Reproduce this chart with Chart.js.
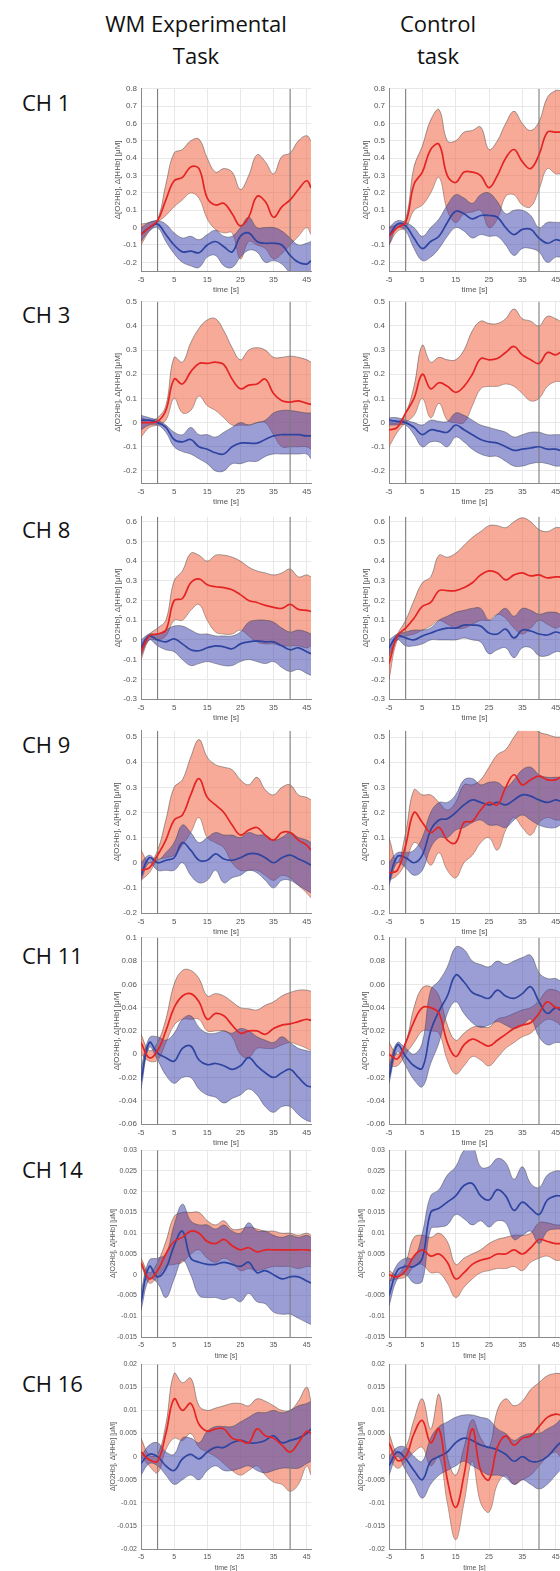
<!DOCTYPE html>
<html>
<head>
<meta charset="utf-8">
<script src="https://cdn.jsdelivr.net/npm/chart.js@4.4.1/dist/chart.umd.min.js"></script>
<style>
  html, body { margin: 0; padding: 0; width: 560px; height: 1571px; overflow: hidden; background: #fff; }
  .lbl { position: absolute; font-family: "Open Sans", sans-serif; font-size: 22px; color: #111; white-space: nowrap; }
  .head { text-align: center; width: 240px; line-height: 32px; }
  .ch { line-height: 22px; }
  canvas { position: absolute; }
</style>
</head>
<body>
<script>
// shared time axis (s), stimulus on/off markers, tick labels
const time = [-5, -2.5, 0, 2.5, 5, 7.5, 10, 12.5, 15, 17.5, 20, 22.5, 25, 27.5, 30, 32.5, 35, 37.5, 40, 42.5, 45, 46.3];
const xTicks = [-5, 5, 15, 25, 35, 45];
const markers = [0, 40];
const channels = ["CH 1", "CH 3", "CH 8", "CH 9", "CH 11", "CH 14", "CH 16"];
const tasks = [["WM Experimental", "Task"], ["Control", "task"]];

const yMin = [-0.25, -0.25, -0.3, -0.2, -0.06, -0.015, -0.02];
const yMax = [0.8, 0.5, 0.625, 0.525, 0.1, 0.03, 0.02];
const yTicks = [
  [-0.2, -0.1, 0, 0.1, 0.2, 0.3, 0.4, 0.5, 0.6, 0.7, 0.8],
  [-0.2, -0.1, 0, 0.1, 0.2, 0.3, 0.4, 0.5],
  [-0.3, -0.2, -0.1, 0, 0.1, 0.2, 0.3, 0.4, 0.5, 0.6],
  [-0.2, -0.1, 0, 0.1, 0.2, 0.3, 0.4, 0.5],
  [-0.06, -0.04, -0.02, 0, 0.02, 0.04, 0.06, 0.08, 0.1],
  [-0.015, -0.01, -0.005, 0, 0.005, 0.01, 0.015, 0.02, 0.025, 0.03],
  [-0.02, -0.015, -0.01, -0.005, 0, 0.005, 0.01, 0.015, 0.02]
];

// CH 1
const wm1O2    = [-0.04, 0.0, 0.04, 0.16, 0.27, 0.29, 0.35, 0.34, 0.17, 0.13, 0.14, 0.08, 0.01, 0.06, 0.18, 0.15, 0.06, 0.12, 0.16, 0.22, 0.27, 0.23];
const wm1O2Hi  = [0.02, 0.03, 0.05, 0.25, 0.43, 0.45, 0.5, 0.51, 0.4, 0.32, 0.34, 0.32, 0.22, 0.3, 0.42, 0.38, 0.31, 0.41, 0.43, 0.5, 0.53, 0.5];
const wm1O2Lo  = [-0.1, -0.02, 0.03, 0.07, 0.12, 0.16, 0.2, 0.17, 0.05, -0.01, -0.03, -0.03, -0.18, -0.08, -0.1, -0.12, -0.18, -0.15, -0.1, -0.05, 0.0, -0.04];
const wm1HHb   = [-0.04, 0.0, 0.02, -0.04, -0.1, -0.14, -0.135, -0.145, -0.1, -0.08, -0.11, -0.14, -0.05, -0.03, -0.08, -0.09, -0.09, -0.1, -0.16, -0.2, -0.21, -0.19];
const wm1HHbHi = [0.0, 0.03, 0.04, 0.02, -0.03, -0.06, -0.05, -0.07, -0.04, -0.015, -0.05, -0.05, 0.0, 0.06, 0.0, 0.0, 0.0, -0.02, -0.06, -0.1, -0.09, -0.08];
const wm1HHbLo = [-0.08, -0.02, 0.0, -0.08, -0.15, -0.2, -0.22, -0.23, -0.17, -0.16, -0.22, -0.23, -0.17, -0.13, -0.14, -0.2, -0.19, -0.21, -0.26, -0.28, -0.3, -0.3];
const ctl1O2    = [-0.05, 0.0, 0.03, 0.25, 0.32, 0.45, 0.48, 0.3, 0.26, 0.32, 0.32, 0.3, 0.23, 0.3, 0.4, 0.45, 0.38, 0.34, 0.42, 0.55, 0.55, 0.55];
const ctl1O2Hi  = [0.0, 0.02, 0.05, 0.35, 0.47, 0.62, 0.68, 0.5, 0.5, 0.55, 0.56, 0.58, 0.45, 0.5, 0.6, 0.67, 0.6, 0.56, 0.61, 0.75, 0.79, 0.79];
const ctl1O2Lo  = [-0.1, -0.02, 0.0, 0.1, 0.13, 0.2, 0.29, 0.1, 0.03, 0.08, 0.09, 0.1, 0.0, 0.05, 0.18, 0.19, 0.13, 0.12, 0.22, 0.34, 0.31, 0.31];
const ctl1HHb   = [-0.05, 0.02, 0.01, -0.06, -0.12, -0.08, -0.05, 0.03, 0.095, 0.08, 0.05, 0.07, 0.07, 0.06, 0.0, -0.04, -0.01, -0.01, -0.06, -0.09, -0.07, -0.075];
const ctl1HHbHi = [0.0, 0.04, 0.03, 0.0, -0.05, 0.0, 0.05, 0.13, 0.19, 0.17, 0.14, 0.19, 0.2, 0.15, 0.08, 0.1, 0.1, 0.07, 0.0, 0.03, 0.03, 0.03];
const ctl1HHbLo = [-0.1, 0.0, -0.02, -0.12, -0.19, -0.17, -0.12, -0.05, 0.0, -0.02, -0.06, -0.04, -0.05, -0.05, -0.1, -0.16, -0.12, -0.12, -0.14, -0.2, -0.17, -0.17];

// CH 3
const wm3O2    = [0.0, 0.0, 0.005, 0.05, 0.18, 0.16, 0.21, 0.245, 0.245, 0.25, 0.24, 0.18, 0.14, 0.155, 0.16, 0.18, 0.12, 0.09, 0.085, 0.09, 0.08, 0.075];
const wm3O2Hi  = [0.02, 0.01, 0.02, 0.07, 0.27, 0.25, 0.33, 0.39, 0.425, 0.43, 0.38, 0.31, 0.26, 0.3, 0.31, 0.3, 0.27, 0.27, 0.275, 0.27, 0.26, 0.25];
const wm3O2Lo  = [-0.06, -0.02, -0.01, 0.01, 0.1, 0.04, 0.05, 0.11, 0.07, 0.05, 0.02, -0.01, -0.01, -0.01, 0.0, 0.0, -0.05, -0.1, -0.1, -0.1, -0.1, -0.11];
const wm3HHb   = [0.01, 0.01, 0.0, -0.02, -0.07, -0.08, -0.07, -0.1, -0.11, -0.125, -0.13, -0.1, -0.085, -0.085, -0.085, -0.07, -0.055, -0.05, -0.05, -0.05, -0.055, -0.055];
const wm3HHbHi = [0.03, 0.02, 0.01, -0.01, -0.04, -0.05, -0.02, -0.05, -0.05, -0.06, -0.04, -0.02, 0.0, -0.01, 0.0, 0.01, 0.04, 0.05, 0.05, 0.045, 0.04, 0.04];
const wm3HHbLo = [-0.03, -0.01, -0.01, -0.04, -0.1, -0.12, -0.13, -0.15, -0.17, -0.2, -0.2, -0.17, -0.17, -0.16, -0.16, -0.14, -0.13, -0.13, -0.13, -0.13, -0.13, -0.15];
const ctl3O2    = [-0.03, -0.02, 0.04, 0.1, 0.2, 0.14, 0.165, 0.15, 0.125, 0.15, 0.2, 0.265, 0.26, 0.265, 0.29, 0.315, 0.28, 0.26, 0.245, 0.29, 0.28, 0.29];
const ctl3O2Hi  = [0.0, 0.0, 0.04, 0.15, 0.32, 0.25, 0.27, 0.26, 0.26, 0.3, 0.38, 0.42, 0.41, 0.41, 0.43, 0.47, 0.43, 0.42, 0.4, 0.44, 0.43, 0.42];
const ctl3O2Lo  = [-0.1, -0.04, 0.0, 0.03, 0.1, 0.02, 0.08, 0.01, 0.0, 0.0, 0.07, 0.14, 0.15, 0.15, 0.16, 0.15, 0.12, 0.09, 0.1, 0.15, 0.17, 0.17];
const ctl3HHb   = [0.01, 0.005, 0.0, -0.02, -0.05, -0.03, -0.035, -0.04, -0.01, -0.03, -0.05, -0.07, -0.08, -0.085, -0.1, -0.115, -0.11, -0.105, -0.1, -0.11, -0.11, -0.115];
const ctl3HHbHi = [0.02, 0.02, 0.01, 0.0, -0.01, 0.01, 0.005, 0.005, 0.04, 0.03, 0.01, -0.01, -0.02, -0.03, -0.04, -0.06, -0.05, -0.04, -0.04, -0.05, -0.05, -0.05];
const ctl3HHbLo = [-0.01, -0.01, -0.01, -0.05, -0.1, -0.08, -0.08, -0.1, -0.06, -0.08, -0.11, -0.13, -0.14, -0.14, -0.16, -0.18, -0.18, -0.17, -0.165, -0.17, -0.18, -0.18];

// CH 8
const wm8O2    = [-0.06, 0.02, 0.03, 0.05, 0.2, 0.21, 0.29, 0.31, 0.28, 0.27, 0.265, 0.255, 0.23, 0.2, 0.19, 0.175, 0.165, 0.16, 0.18, 0.155, 0.15, 0.145];
const wm8O2Hi  = [-0.02, 0.03, 0.06, 0.1, 0.3, 0.35, 0.44, 0.43, 0.4, 0.43, 0.43, 0.42, 0.4, 0.37, 0.35, 0.34, 0.33, 0.34, 0.36, 0.32, 0.33, 0.32];
const wm8O2Lo  = [-0.1, 0.0, 0.0, 0.02, 0.1, 0.1, 0.15, 0.18, 0.1, 0.04, 0.03, 0.03, 0.05, 0.02, -0.01, -0.02, -0.02, -0.03, -0.03, -0.03, -0.04, -0.03];
const wm8HHb   = [-0.04, 0.02, 0.0, -0.01, 0.005, -0.02, -0.05, -0.055, -0.04, -0.03, -0.035, -0.045, -0.02, -0.01, -0.005, -0.01, -0.01, -0.03, -0.05, -0.04, -0.06, -0.07];
const wm8HHbHi = [0.0, 0.03, 0.03, 0.05, 0.07, 0.07, 0.05, 0.03, 0.03, 0.02, 0.02, 0.02, 0.04, 0.09, 0.1, 0.1, 0.09, 0.06, 0.04, 0.05, 0.04, 0.03];
const wm8HHbLo = [-0.08, 0.0, -0.03, -0.05, -0.06, -0.1, -0.13, -0.12, -0.11, -0.12, -0.13, -0.13, -0.11, -0.1, -0.11, -0.12, -0.11, -0.14, -0.16, -0.15, -0.17, -0.18];
const ctl8O2    = [-0.12, 0.02, 0.06, 0.11, 0.17, 0.19, 0.25, 0.25, 0.25, 0.265, 0.29, 0.33, 0.35, 0.34, 0.305, 0.33, 0.34, 0.325, 0.33, 0.315, 0.32, 0.32];
const ctl8O2Hi  = [-0.05, 0.03, 0.1, 0.2, 0.29, 0.32, 0.43, 0.42, 0.44, 0.48, 0.52, 0.55, 0.58, 0.58, 0.57, 0.6, 0.62, 0.6, 0.56, 0.55, 0.57, 0.57];
const ctl8O2Lo  = [-0.2, 0.0, 0.02, 0.03, 0.05, 0.07, 0.1, 0.08, 0.06, 0.06, 0.08, 0.1, 0.1, 0.13, 0.11, 0.06, 0.03, 0.06, 0.1, 0.08, 0.06, 0.07];
const ctl8HHb   = [-0.04, 0.02, 0.01, 0.0, 0.02, 0.035, 0.05, 0.06, 0.06, 0.075, 0.075, 0.07, 0.035, 0.03, 0.055, 0.01, 0.05, 0.045, 0.03, 0.025, 0.04, 0.035];
const ctl8HHbHi = [0.0, 0.03, 0.04, 0.05, 0.05, 0.06, 0.1, 0.12, 0.14, 0.15, 0.16, 0.16, 0.1, 0.13, 0.16, 0.12, 0.16, 0.15, 0.13, 0.14, 0.14, 0.13];
const ctl8HHbLo = [-0.08, 0.0, -0.03, -0.03, -0.02, 0.0, 0.0, 0.0, 0.0, 0.01, 0.0, -0.01, -0.07, -0.05, -0.04, -0.09, -0.04, -0.04, -0.08, -0.08, -0.06, -0.06];

// CH 9
const wm9O2    = [-0.03, -0.02, 0.03, 0.09, 0.17, 0.19, 0.27, 0.335, 0.26, 0.23, 0.2, 0.15, 0.11, 0.13, 0.14, 0.11, 0.09, 0.12, 0.12, 0.09, 0.07, 0.05];
const wm9O2Hi  = [0.05, 0.0, 0.05, 0.17, 0.3, 0.33, 0.42, 0.49, 0.42, 0.39, 0.38, 0.37, 0.33, 0.31, 0.34, 0.29, 0.27, 0.3, 0.31, 0.27, 0.26, 0.25];
const wm9O2Lo  = [-0.07, -0.04, 0.01, 0.02, 0.03, 0.07, 0.12, 0.18, 0.1, 0.08, 0.06, 0.0, -0.03, -0.03, -0.03, -0.05, -0.07, -0.05, -0.06, -0.09, -0.12, -0.14];
const wm9HHb   = [-0.05, 0.02, 0.0, 0.01, 0.02, 0.08, 0.05, 0.01, 0.01, 0.035, 0.015, 0.01, 0.02, 0.035, 0.035, 0.02, 0.0, 0.02, 0.03, 0.015, 0.0, -0.01];
const wm9HHbHi = [0.0, 0.03, 0.01, 0.04, 0.08, 0.15, 0.12, 0.08, 0.1, 0.12, 0.11, 0.11, 0.1, 0.12, 0.11, 0.11, 0.09, 0.1, 0.12, 0.1, 0.09, 0.08];
const wm9HHbLo = [-0.07, 0.0, -0.03, -0.03, -0.03, 0.0, -0.05, -0.08, -0.07, -0.03, -0.08, -0.06, -0.05, -0.03, -0.04, -0.07, -0.1, -0.07, -0.07, -0.09, -0.11, -0.12];
const ctl9O2    = [-0.04, -0.03, 0.07, 0.2, 0.16, 0.12, 0.14, 0.09, 0.08, 0.16, 0.165, 0.21, 0.24, 0.23, 0.3, 0.35, 0.31, 0.33, 0.345, 0.33, 0.33, 0.34];
const ctl9O2Hi  = [0.1, 0.0, 0.12, 0.29, 0.27, 0.27, 0.24, 0.21, 0.24, 0.31, 0.31, 0.33, 0.38, 0.43, 0.45, 0.5, 0.54, 0.55, 0.52, 0.51, 0.5, 0.5];
const ctl9O2Lo  = [-0.07, -0.05, 0.0, 0.08, 0.05, -0.01, 0.04, -0.03, -0.06, 0.0, 0.03, 0.08, 0.1, 0.05, 0.13, 0.18, 0.14, 0.11, 0.16, 0.18, 0.17, 0.17];
const ctl9HHb   = [-0.07, 0.025, 0.02, 0.0, 0.03, 0.13, 0.17, 0.175, 0.2, 0.23, 0.25, 0.24, 0.23, 0.24, 0.23, 0.25, 0.27, 0.265, 0.25, 0.24, 0.25, 0.245];
const ctl9HHbHi = [0.0, 0.04, 0.04, 0.05, 0.1, 0.2, 0.24, 0.24, 0.27, 0.33, 0.335, 0.31, 0.32, 0.32, 0.3, 0.33, 0.37, 0.38, 0.35, 0.34, 0.34, 0.34];
const ctl9HHbLo = [-0.09, 0.0, -0.02, -0.05, -0.03, 0.06, 0.1, 0.1, 0.13, 0.14, 0.16, 0.17, 0.15, 0.15, 0.14, 0.17, 0.19, 0.17, 0.15, 0.14, 0.14, 0.15];

// CH 11
const wm11O2    = [0.01, -0.003, 0.003, 0.02, 0.04, 0.05, 0.052, 0.045, 0.03, 0.035, 0.033, 0.025, 0.018, 0.02, 0.02, 0.017, 0.022, 0.025, 0.026, 0.028, 0.03, 0.029];
const wm11O2Hi  = [0.017, 0.003, 0.01, 0.03, 0.06, 0.072, 0.072, 0.065, 0.05, 0.052, 0.05, 0.045, 0.04, 0.039, 0.038, 0.042, 0.045, 0.05, 0.053, 0.055, 0.055, 0.054];
const wm11O2Lo  = [0.0, -0.006, -0.005, 0.01, 0.025, 0.03, 0.03, 0.03, 0.02, 0.02, 0.02, 0.015, 0.0, -0.003, 0.005, 0.005, 0.005, 0.008, 0.01, 0.008, 0.005, 0.003];
const wm11HHb   = [-0.023, 0.01, 0.001, -0.003, -0.006, 0.005, 0.007, -0.005, -0.009, -0.008, -0.01, -0.013, -0.01, -0.003, -0.01, -0.016, -0.02, -0.016, -0.013, -0.02, -0.027, -0.028];
const wm11HHbHi = [-0.012, 0.014, 0.015, 0.012, 0.018, 0.03, 0.033, 0.023, 0.018, 0.018, 0.02, 0.018, 0.022, 0.02, 0.015, 0.012, 0.01, 0.015, 0.01, 0.005, 0.003, 0.002];
const wm11HHbLo = [-0.03, 0.006, -0.005, -0.018, -0.025, -0.02, -0.02, -0.03, -0.035, -0.037, -0.042, -0.038, -0.035, -0.03, -0.035, -0.045, -0.05, -0.045, -0.045, -0.052, -0.057, -0.058];
const ctl11O2    = [0.0, -0.004, 0.01, 0.028, 0.04, 0.04, 0.035, 0.01, -0.002, 0.008, 0.013, 0.01, 0.007, 0.012, 0.017, 0.022, 0.025, 0.027, 0.035, 0.045, 0.04, 0.04];
const ctl11O2Hi  = [0.01, 0.0, 0.01, 0.04, 0.057, 0.058, 0.05, 0.025, 0.012, 0.018, 0.023, 0.024, 0.023, 0.03, 0.032, 0.035, 0.038, 0.04, 0.046, 0.055, 0.055, 0.053];
const ctl11O2Lo  = [-0.01, -0.01, 0.0, 0.01, 0.02, 0.02, 0.018, -0.005, -0.017, -0.01, -0.002, -0.005, -0.01, -0.003, 0.005, 0.01, 0.015, 0.018, 0.025, 0.03, 0.028, 0.025];
const ctl11HHb   = [-0.02, 0.008, -0.002, -0.01, -0.012, 0.02, 0.037, 0.05, 0.068, 0.062, 0.053, 0.05, 0.048, 0.055, 0.05, 0.048, 0.052, 0.058, 0.045, 0.035, 0.04, 0.038];
const ctl11HHbHi = [-0.01, 0.01, 0.005, 0.0, 0.01, 0.055, 0.063, 0.075, 0.092, 0.09, 0.08, 0.077, 0.075, 0.08, 0.077, 0.08, 0.083, 0.085, 0.07, 0.065, 0.065, 0.063];
const ctl11HHbLo = [-0.025, 0.002, -0.01, -0.022, -0.028, -0.008, 0.01, 0.035, 0.045, 0.035, 0.027, 0.023, 0.025, 0.028, 0.025, 0.022, 0.025, 0.03, 0.015, 0.008, 0.01, 0.01];

// CH 14
const wm14O2    = [0.003, -0.001, 0.001, 0.005, 0.008, 0.009, 0.0105, 0.01, 0.008, 0.0075, 0.0085, 0.007, 0.006, 0.0065, 0.0055, 0.006, 0.006, 0.006, 0.006, 0.006, 0.006, 0.0058];
const wm14O2Hi  = [0.004, 0.0005, 0.003, 0.008, 0.014, 0.015, 0.015, 0.015, 0.013, 0.012, 0.013, 0.011, 0.011, 0.0115, 0.011, 0.0105, 0.0105, 0.01, 0.01, 0.0095, 0.01, 0.0095];
const wm14O2Lo  = [0.0025, -0.002, -0.0005, 0.002, 0.0025, 0.003, 0.005, 0.006, 0.004, 0.003, 0.004, 0.003, 0.001, 0.0015, 0.001, 0.0015, 0.002, 0.002, 0.002, 0.0015, 0.002, 0.002];
const wm14HHb   = [-0.0065, 0.002, -0.0005, 0.0015, 0.007, 0.0105, 0.004, 0.003, 0.0025, 0.0025, 0.003, 0.0025, 0.002, 0.003, 0.0005, 0.001, 0.0, -0.001, -0.0005, -0.0005, -0.0015, -0.002];
const wm14HHbHi = [-0.004, 0.0035, 0.004, 0.005, 0.012, 0.017, 0.013, 0.012, 0.012, 0.011, 0.012, 0.0105, 0.01, 0.0125, 0.0105, 0.0105, 0.0095, 0.009, 0.0095, 0.009, 0.0095, 0.009];
const wm14HHbLo = [-0.0085, -0.001, -0.002, -0.0055, -0.001, 0.0035, 0.0, -0.005, -0.0055, -0.0055, -0.006, -0.0055, -0.0065, -0.0045, -0.0065, -0.007, -0.009, -0.0095, -0.0095, -0.0105, -0.0115, -0.012];
const ctl14O2    = [0.0, -0.0005, 0.001, 0.0045, 0.006, 0.0045, 0.005, 0.003, -0.001, 0.0005, 0.0025, 0.0035, 0.004, 0.005, 0.005, 0.006, 0.005, 0.0065, 0.0085, 0.008, 0.0075, 0.0075];
const ctl14O2Hi  = [0.001, 0.0, 0.003, 0.009, 0.0095, 0.009, 0.01, 0.008, 0.0025, 0.004, 0.005, 0.006, 0.0075, 0.0085, 0.009, 0.0095, 0.0095, 0.01, 0.0125, 0.0125, 0.012, 0.012];
const ctl14O2Lo  = [-0.0015, -0.001, -0.0005, 0.002, 0.0025, 0.0005, 0.0005, -0.002, -0.0055, -0.003, -0.001, 0.0005, 0.001, 0.0015, 0.0015, 0.002, 0.001, 0.003, 0.004, 0.0045, 0.0035, 0.0035];
const ctl14HHb   = [-0.005, 0.001, 0.002, 0.002, 0.004, 0.015, 0.016, 0.0175, 0.019, 0.0215, 0.022, 0.019, 0.018, 0.0205, 0.019, 0.0155, 0.0175, 0.016, 0.0145, 0.018, 0.019, 0.019];
const ctl14HHbHi = [-0.002, 0.0025, 0.004, 0.004, 0.01, 0.019, 0.0205, 0.024, 0.026, 0.03, 0.031, 0.026, 0.026, 0.028, 0.027, 0.023, 0.026, 0.022, 0.021, 0.024, 0.025, 0.025];
const ctl14HHbLo = [-0.0075, -0.001, 0.0, -0.002, -0.0015, 0.011, 0.0115, 0.012, 0.0145, 0.0135, 0.012, 0.013, 0.0115, 0.013, 0.0125, 0.0085, 0.0095, 0.0105, 0.0075, 0.0105, 0.011, 0.011];

// CH 16
const wm16O2    = [0.001, -0.0007, -0.001, 0.005, 0.0125, 0.01, 0.0115, 0.007, 0.0055, 0.006, 0.006, 0.004, 0.0035, 0.003, 0.006, 0.0045, 0.004, 0.0025, 0.001, 0.003, 0.0055, 0.005];
const wm16O2Hi  = [0.004, 0.0003, 0.0005, 0.007, 0.018, 0.016, 0.017, 0.011, 0.01, 0.0105, 0.011, 0.0115, 0.0115, 0.011, 0.0125, 0.012, 0.011, 0.01, 0.01, 0.012, 0.015, 0.012];
const wm16O2Lo  = [0.0, -0.002, -0.0035, 0.0015, 0.004, 0.0035, 0.005, 0.002, 0.001, 0.0, -0.0015, -0.003, -0.004, -0.003, -0.002, -0.004, -0.0055, -0.006, -0.0075, -0.006, -0.002, -0.004];
const wm16HHb   = [-0.0015, 0.0005, 0.0, -0.002, -0.003, -0.0005, 0.0005, -0.0005, 0.001, 0.002, 0.002, 0.003, 0.0035, 0.003, 0.003, 0.0035, 0.0045, 0.003, 0.0035, 0.004, 0.005, 0.006];
const wm16HHbHi = [0.0, 0.0025, 0.003, 0.001, 0.0005, 0.004, 0.004, 0.003, 0.0055, 0.0065, 0.0065, 0.0065, 0.0075, 0.0085, 0.0095, 0.0095, 0.01, 0.0095, 0.01, 0.011, 0.0115, 0.012];
const wm16HHbLo = [-0.004, -0.0015, -0.002, -0.004, -0.006, -0.005, -0.004, -0.005, -0.003, -0.002, -0.003, -0.003, -0.0025, -0.002, -0.003, -0.0035, -0.003, -0.0025, -0.0025, -0.0025, -0.0015, -0.001];
const ctl16O2    = [0.003, -0.0008, 0.0, 0.005, 0.0078, 0.003, 0.006, -0.005, -0.011, -0.004, 0.006, -0.003, -0.005, 0.002, 0.0045, 0.0025, 0.004, 0.0045, 0.0065, 0.0085, 0.0092, 0.009];
const ctl16O2Hi  = [0.005, 0.0008, 0.002, 0.008, 0.0125, 0.006, 0.0135, 0.0, -0.004, 0.002, 0.008, 0.004, 0.002, 0.01, 0.0125, 0.011, 0.012, 0.0145, 0.016, 0.0175, 0.018, 0.018];
const ctl16O2Lo  = [0.0, -0.0025, -0.001, 0.001, 0.002, -0.002, 0.0, -0.01, -0.018, -0.01, -0.001, -0.01, -0.012, -0.006, -0.004, -0.006, -0.005, -0.004, -0.002, 0.0, 0.001, 0.0];
const ctl16HHb   = [-0.002, 0.001, -0.0005, -0.003, -0.005, -0.001, 0.0, 0.001, 0.003, 0.004, 0.0035, 0.0025, 0.002, 0.0015, 0.0005, -0.001, 0.0, -0.001, -0.001, 0.0, 0.002, 0.003];
const ctl16HHbHi = [0.0, 0.002, 0.002, 0.0, -0.001, 0.004, 0.0065, 0.0075, 0.0085, 0.009, 0.009, 0.0085, 0.008, 0.006, 0.005, 0.0035, 0.0045, 0.005, 0.005, 0.006, 0.007, 0.008];
const ctl16HHbLo = [-0.004, 0.0, -0.003, -0.006, -0.009, -0.006, -0.004, -0.003, -0.002, -0.001, -0.002, -0.003, -0.004, -0.004, -0.0045, -0.006, -0.005, -0.006, -0.007, -0.006, -0.004, -0.003];

const panels = [
  [[wm1O2, wm1O2Hi, wm1O2Lo, wm1HHb, wm1HHbHi, wm1HHbLo], [ctl1O2, ctl1O2Hi, ctl1O2Lo, ctl1HHb, ctl1HHbHi, ctl1HHbLo]],
  [[wm3O2, wm3O2Hi, wm3O2Lo, wm3HHb, wm3HHbHi, wm3HHbLo], [ctl3O2, ctl3O2Hi, ctl3O2Lo, ctl3HHb, ctl3HHbHi, ctl3HHbLo]],
  [[wm8O2, wm8O2Hi, wm8O2Lo, wm8HHb, wm8HHbHi, wm8HHbLo], [ctl8O2, ctl8O2Hi, ctl8O2Lo, ctl8HHb, ctl8HHbHi, ctl8HHbLo]],
  [[wm9O2, wm9O2Hi, wm9O2Lo, wm9HHb, wm9HHbHi, wm9HHbLo], [ctl9O2, ctl9O2Hi, ctl9O2Lo, ctl9HHb, ctl9HHbHi, ctl9HHbLo]],
  [[wm11O2, wm11O2Hi, wm11O2Lo, wm11HHb, wm11HHbHi, wm11HHbLo], [ctl11O2, ctl11O2Hi, ctl11O2Lo, ctl11HHb, ctl11HHbHi, ctl11HHbLo]],
  [[wm14O2, wm14O2Hi, wm14O2Lo, wm14HHb, wm14HHbHi, wm14HHbLo], [ctl14O2, ctl14O2Hi, ctl14O2Lo, ctl14HHb, ctl14HHbHi, ctl14HHbLo]],
  [[wm16O2, wm16O2Hi, wm16O2Lo, wm16HHb, wm16HHbHi, wm16HHbLo], [ctl16O2, ctl16O2Hi, ctl16O2Lo, ctl16HHb, ctl16HHbHi, ctl16HHbLo]]
];

// layout (px)
const rowTop = [88, 301, 516, 730, 937, 1150, 1364];
const rowBottom = [271, 483, 699, 913, 1124, 1337, 1549];
const chMid = [101, 313, 528, 743, 954, 1168, 1382];
const plotLeft = [141, 389];
const plotRight = [311, 560];
const headMid = [196, 438];
const fontPx = [8, 8, 8, 8, 8, 7, 7];          // panel text size per row
const titleGap = [23, 23, 23, 24, 24, 28, 28];  // y-title centre, px left of the plot
const Y_W = 36, X_H = 27, PAD_T = 8, PAD_R = 6;

const RED = "rgb(228,36,36)";
const BLUE = "rgb(46,68,160)";
const RED_BAND = "rgba(238,100,65,0.55)";
const BLUE_BAND = "rgba(55,62,172,0.5)";
const EDGE = "rgba(70,70,70,0.7)";
const GRID = "#e8e8e8";
const AXIS = "#8a8a8a";
const TXT = "#555";

function addText(cls, html, left, top) {
  const d = document.createElement("div");
  d.className = "lbl " + cls;
  d.innerHTML = html;
  d.style.left = left + "px";
  d.style.top = top + "px";
  document.body.appendChild(d);
}

tasks.forEach((t, c) => addText("head", t.join("<br>"), headMid[c] - 120, 6.5));
channels.forEach((name, r) => addText("ch", name, 22, chMid[r] - 10.5));

function drawPanel(r, c) {
  const [o2, o2Hi, o2Lo, hb, hbHi, hbLo] = panels[r][c];
  const w = plotRight[c] - plotLeft[c] + Y_W + PAD_R;
  const h = rowBottom[r] - rowTop[r] + PAD_T + X_H;
  const cv = document.createElement("canvas");
  cv.width = w; cv.height = h;
  cv.style.width = w + "px"; cv.style.height = h + "px";
  cv.style.left = (plotLeft[c] - Y_W) + "px";
  cv.style.top = (rowTop[r] - PAD_T) + "px";
  document.body.appendChild(cv);

  const small = { family: "Liberation Sans", size: fontPx[r] };
  const half = fontPx[r] * 0.6;

  const pts = arr => arr.map((y, i) => ({ x: time[i], y }));
  const line = (arr, color, width, order) => ({
    data: pts(arr), borderColor: color, borderWidth: width, order, tension: 0.4, fill: false
  });
  const band = (hi, lo, color, order) => [
    { data: pts(hi), borderColor: EDGE, borderWidth: 0.7, backgroundColor: color, fill: "+1", order, tension: 0.4 },
    { data: pts(lo), borderColor: EDGE, borderWidth: 0.7, fill: false, order, tension: 0.4 }
  ];

  const datasets = [
    line(o2, RED, 1.7, 0),
    line(hb, BLUE, 1.7, 1),
    ...markers.map(m => ({
      data: [{ x: m, y: yMin[r] }, { x: m, y: yMax[r] }],
      borderColor: "#7c7c7c", borderWidth: 1.1, order: 2, tension: 0, fill: false
    })),
    ...band(hbHi, hbLo, BLUE_BAND, 3),
    ...band(o2Hi, o2Lo, RED_BAND, 4)
  ];

  new Chart(cv, {
    type: "line",
    data: { datasets },
    options: {
      responsive: false,
      animation: false,
      events: [],
      layout: { padding: { top: PAD_T, right: PAD_R, left: 0, bottom: 0 } },
      elements: { point: { radius: 0 } },
      plugins: { legend: { display: false }, tooltip: { enabled: false } },
      scales: {
        x: {
          type: "linear",
          min: -5,
          max: 46.3,
          afterBuildTicks: s => { s.ticks = xTicks.map(v => ({ value: v })); },
          afterFit: s => { s.height = X_H; },
          ticks: { font: small, color: TXT, padding: 4, maxRotation: 0, autoSkip: false },
          grid: { color: GRID, drawTicks: false },
          border: { color: AXIS },
          title: { display: true, text: "time [s]", font: small, color: TXT, padding: { top: 0, bottom: 19 - X_H + half > 0 ? 0 : X_H - 19 - half } }
        },
        y: {
          min: yMin[r],
          max: yMax[r],
          afterBuildTicks: s => { s.ticks = yTicks[r].map(v => ({ value: v })); },
          afterFit: s => { s.width = Y_W; },
          ticks: { font: small, color: TXT, padding: 4, callback: v => String(+v.toFixed(4)) },
          grid: { color: GRID, drawTicks: false },
          border: { color: AXIS },
          title: { display: true, text: "Δ[O2Hb], Δ[HHb] [μM]", font: small, color: TXT, padding: { top: Y_W - titleGap[r] - half, bottom: 0 } }
        }
      }
    }
  });
}

for (let r = 0; r < panels.length; r++) {
  for (let c = 0; c < 2; c++) drawPanel(r, c);
}
</script>
</body>
</html>
